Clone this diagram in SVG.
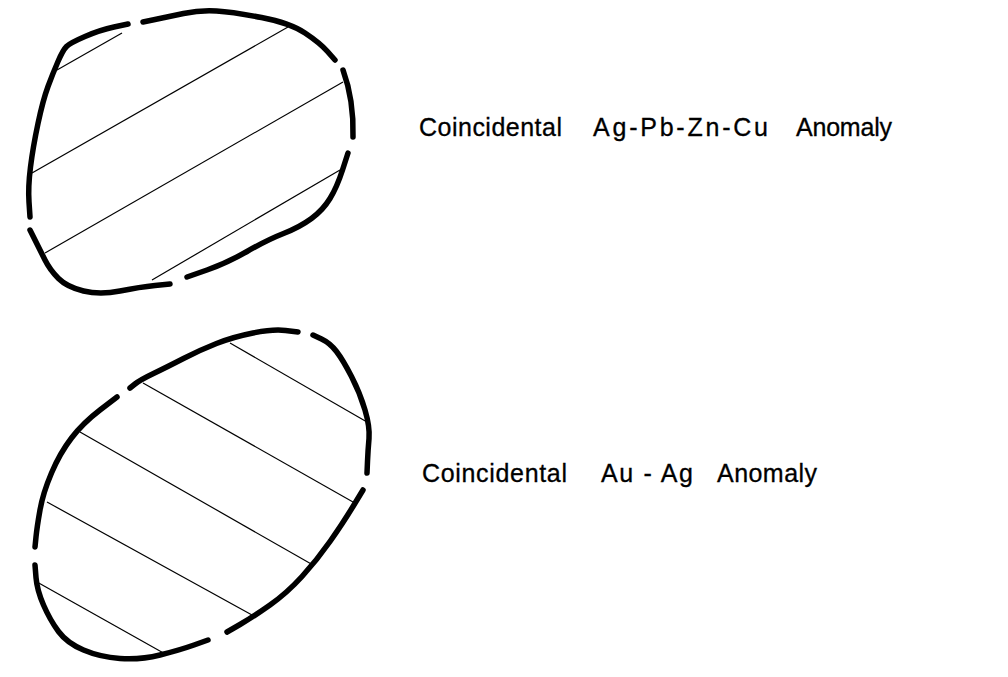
<svg xmlns="http://www.w3.org/2000/svg" width="1008" height="677" viewBox="0 0 1008 677">
<style>
.outline{fill:none;stroke:#000;stroke-width:5.5;stroke-linecap:round;stroke-linejoin:round}
.hatch{fill:none;stroke:#000;stroke-width:1.2}
.lbl{font-family:"Liberation Sans",Arial,sans-serif;font-size:25px;fill:#000;stroke:#000;stroke-width:0.3}
</style>
<rect width="1008" height="677" fill="#fff"/>
<g id="anomaly-ag-pb-zn-cu">
<path class="outline" d="M128,24 L114,27 Q100,30 85,36.5 Q70,43 66.5,46.5 Q63,50 58,61.5 Q53,73 48,86.5 Q43,100 38,123.5 Q33,147 30.5,167 Q28,187 29,202 L30,217"/>
<path class="outline" d="M30,230 L35,240 Q40,250 45,260 Q50,270 58.5,278.5 Q67,287 83.5,291 Q100,295 120,291 Q140,287 155,285.5 L170,284"/>
<path class="outline" d="M187,277 L207,270 Q227,263 247,251.5 Q267,240 283.5,233.5 Q300,227 311.5,218.5 Q323,210 330,198.5 Q337,187 342.5,170 L348,153"/>
<path class="outline" d="M343,70 Q354,100 353,137"/>
<path class="outline" d="M335,60 L327.5,51.5 Q320,43 305,33 Q290,23 261.5,17.5 Q233,12 216.5,11 Q200,10 183.5,13.5 Q167,17 155,19.5 L143,22"/>
<line class="hatch" x1="57" y1="70" x2="122" y2="33"/>
<line class="hatch" x1="32" y1="173" x2="288" y2="27"/>
<line class="hatch" x1="45" y1="253" x2="343" y2="82"/>
<line class="hatch" x1="152" y1="280" x2="340" y2="170"/>
<text class="lbl" x="419" y="136" textLength="143" lengthAdjust="spacing">Coincidental</text>
<text class="lbl" x="593" y="136" textLength="175" lengthAdjust="spacing">Ag-Pb-Zn-Cu</text>
<text class="lbl" x="796" y="136" textLength="96" lengthAdjust="spacing">Anomaly</text>
</g>
<g id="anomaly-au-ag">
<path class="outline" d="M298,332 L285.5,330.5 Q273,329 253,333 Q233,337 216.5,343.5 Q200,350 183.5,358.5 Q167,367 153.5,373.5 Q140,380 135,384 L130,388"/>
<path class="outline" d="M117,397 L100,410 Q83,423 71.5,438 Q60,453 51.5,473 Q43,493 40,510 Q37,527 36,537 L35,547"/>
<path class="outline" d="M35,565 L36,577.5 Q37,590 43.5,605 Q50,620 58.5,631.5 Q67,643 83.5,650 Q100,657 120,658.5 Q140,660 160,655 Q180,650 194,645 L208,640"/>
<path class="outline" d="M227,632 L240,624.5 Q253,617 270,605 Q287,593 302,576.5 Q317,560 330,541.5 Q343,523 353,506.5 L363,490"/>
<path class="outline" d="M367,473 L367.5,461.5 Q368,450 369,438.5 Q370,427 365,410 Q360,393 351.5,376.5 Q343,360 336.5,351.5 Q330,343 321.5,339 L313,335"/>
<line class="hatch" x1="230" y1="343" x2="367" y2="422"/>
<line class="hatch" x1="143" y1="383" x2="353" y2="502"/>
<line class="hatch" x1="80" y1="432" x2="313" y2="565"/>
<line class="hatch" x1="47" y1="502" x2="252" y2="615"/>
<line class="hatch" x1="37" y1="582" x2="167" y2="655"/>
<text class="lbl" x="422" y="482" textLength="145" lengthAdjust="spacing">Coincidental</text>
<text class="lbl" x="601" y="482" textLength="92" lengthAdjust="spacing">Au - Ag</text>
<text class="lbl" x="717" y="482" textLength="100" lengthAdjust="spacing">Anomaly</text>
</g>
<g id="connectors"/>
</svg>
